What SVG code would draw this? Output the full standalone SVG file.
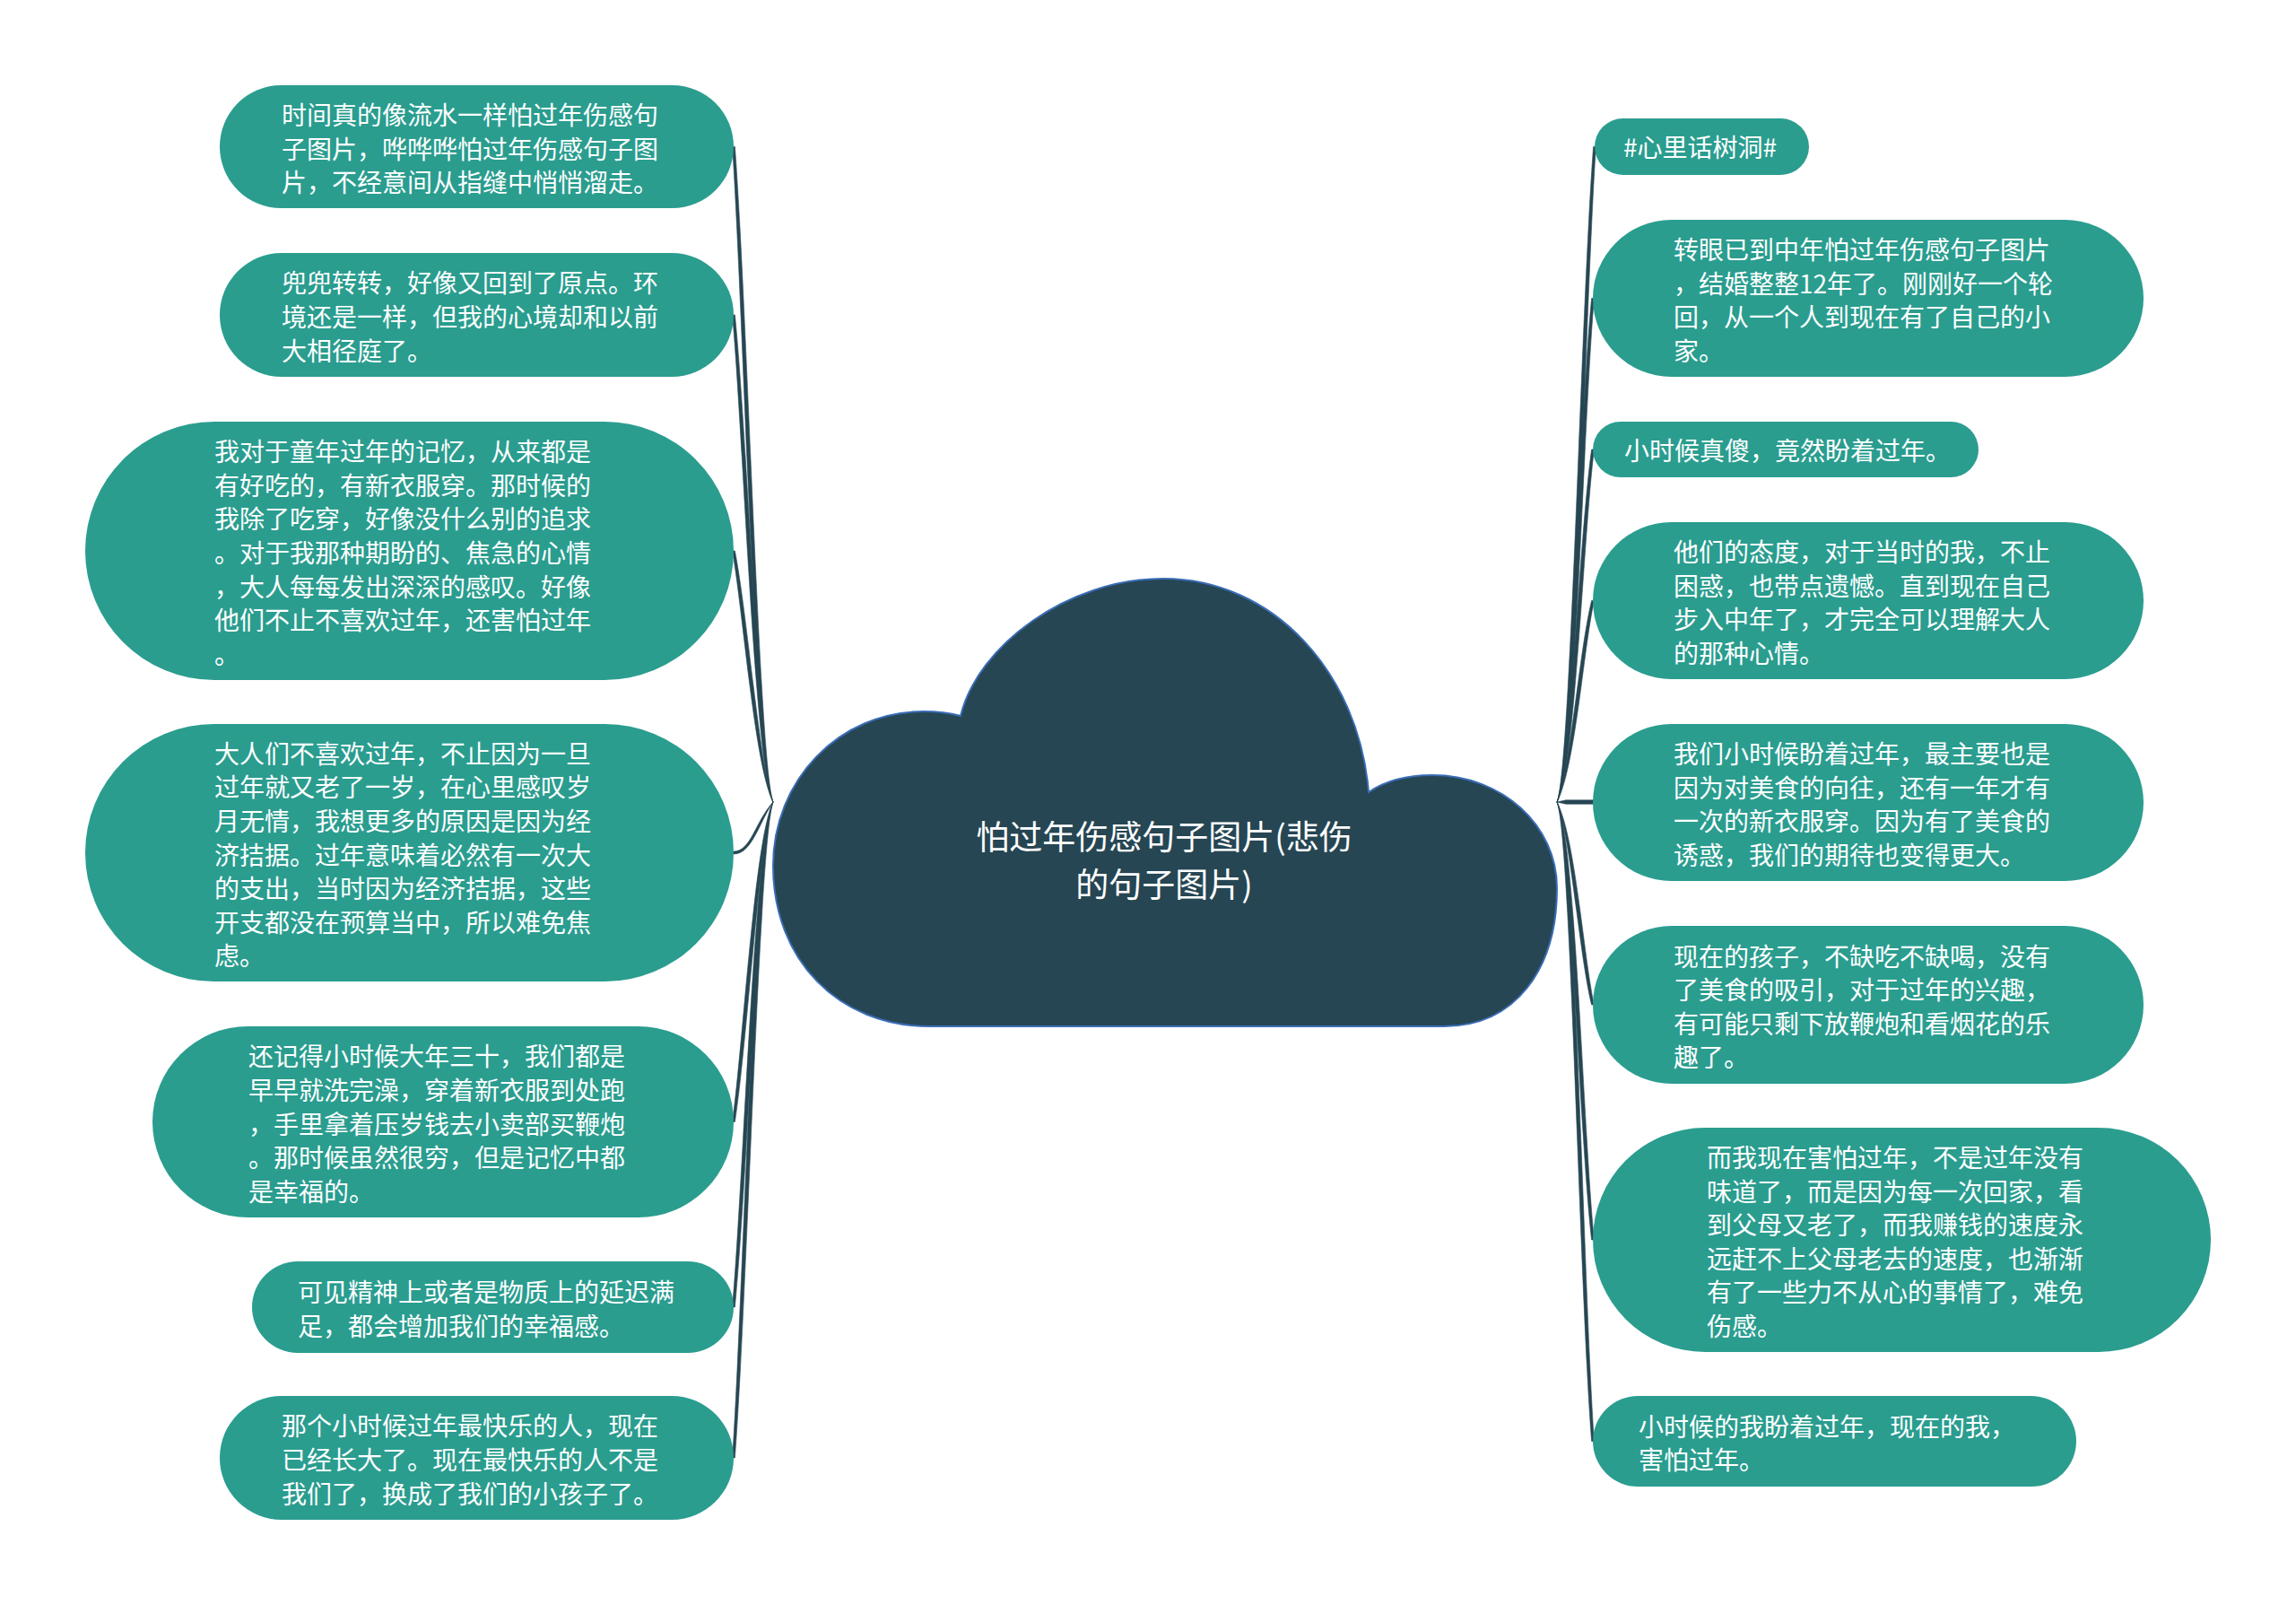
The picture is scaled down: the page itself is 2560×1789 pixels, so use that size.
<svg xmlns="http://www.w3.org/2000/svg" width="2560" height="1789" viewBox="0 0 2560 1789">
<style>
.bg{fill:#ffffff}
.node{fill:#2a9d8f}
.t{font-family:"Noto Sans CJK SC","Noto Sans",sans-serif;font-size:28px;fill:#ffffff}
.ct{font-family:"Noto Sans CJK SC","Noto Sans",sans-serif;font-size:37px;fill:#ffffff;text-anchor:middle}
.edge{fill:#264653;stroke:#264653;stroke-width:0.6;stroke-linejoin:round}
.cloud{fill:#264653;stroke:#3a6db5;stroke-width:2}
</style>
<rect class="bg" x="0" y="0" width="2560" height="1789"/>
<g id="connectors">
<path class="edge" d="M862 894 C841.4 854,828.8 346,816.6 163.5 L819.4 163.5 C833.2 346,846.6 854,862 894Z"/>
<path class="edge" d="M862 894 C841.4 854,828.8 486.75,816.6 351 L819.4 351 C833.2 486.75,846.6 854,862 894Z"/>
<path class="edge" d="M862 894 C841.4 854,828.8 684,816.6 614 L819.4 614 C833.2 684,846.6 854,862 894Z"/>
<path class="edge" d="M862 894 C841.4 916.6,838 948.3,818 949.1 L818 951.9 C838 952.7,846.6 916.6,862 894Z"/>
<path class="edge" d="M862 894 C841.4 934,828.8 1161.4,816.6 1250.5 L819.4 1250.5 C833.2 1161.4,846.6 934,862 894Z"/>
<path class="edge" d="M862 894 C841.4 934,828.8 1316,816.6 1457 L819.4 1457 C833.2 1316,846.6 934,862 894Z"/>
<path class="edge" d="M862 894 C841.4 934,828.8 1442,816.6 1625 L819.4 1625 C833.2 1442,846.6 934,862 894Z"/>
<path class="edge" d="M1736 894 C1751.4 854,1762.8 346,1776.6 163.5 L1779.4 163.5 C1767.2 346,1756.6 854,1736 894Z"/>
<path class="edge" d="M1736 894 C1751.4 854,1760.8 473,1774.6 332.5 L1777.4 332.5 C1765.2 473,1756.6 854,1736 894Z"/>
<path class="edge" d="M1736 894 C1751.4 854,1760.8 599,1774.6 501 L1777.4 501 C1765.2 599,1756.6 854,1736 894Z"/>
<path class="edge" d="M1736 894 C1751.4 854,1760.8 725.6,1774.6 669.5 L1777.4 669.5 C1765.2 725.6,1756.6 854,1736 894Z"/>
<path class="edge" d="M1736 894 L1746 891.8 L1777 891.8 L1777 896.2 L1746 896.2Z"/>
<path class="edge" d="M1736 894 C1751.4 934,1760.8 1063.5,1774.6 1120 L1777.4 1120 C1765.2 1063.5,1756.6 934,1736 894Z"/>
<path class="edge" d="M1736 894 C1751.4 934,1760.8 1260,1774.6 1382 L1777.4 1382 C1765.2 1260,1756.6 934,1736 894Z"/>
<path class="edge" d="M1736 894 C1751.4 934,1760.8 1428.4,1774.6 1606.5 L1777.4 1606.5 C1765.2 1428.4,1756.6 934,1736 894Z"/>
</g>
<g id="center">
<path class="cloud" d="M1036 1144 C935 1144,862 1070,862 965 C862 870,935 793,1030 793 C1045 793,1060 795,1071 798 C1090 720,1190 645,1297 645 C1420 645,1515 750,1526 883 C1545 870,1570 864,1597 864 C1675 864,1736 920,1736 990 C1736 1080,1690 1144,1610 1144 Z"/>
<text class="ct"><tspan x="1298" y="947">怕过年伤感句子图片(悲伤</tspan><tspan x="1298" y="1000">的句子图片)</tspan></text>
</g>
<g id="L1"><rect class="node" x="245" y="95" width="573" height="137" rx="68.5"/>
<text class="t"><tspan x="314" y="139">时间真的像流水一样怕过年伤感句</tspan><tspan x="314" y="176.5">子图片，哗哗哗怕过年伤感句子图</tspan><tspan x="314" y="214">片，不经意间从指缝中悄悄溜走。</tspan></text></g>
<g id="L2"><rect class="node" x="245" y="282" width="573" height="138" rx="69"/>
<text class="t"><tspan x="314" y="326">兜兜转转，好像又回到了原点。环</tspan><tspan x="314" y="364">境还是一样，但我的心境却和以前</tspan><tspan x="314" y="402">大相径庭了。</tspan></text></g>
<g id="L3"><rect class="node" x="95" y="470" width="723" height="288" rx="144"/>
<text class="t"><tspan x="239" y="514">我对于童年过年的记忆，从来都是</tspan><tspan x="239" y="552">有好吃的，有新衣服穿。那时候的</tspan><tspan x="239" y="589">我除了吃穿，好像没什么别的追求</tspan><tspan x="239" y="627">。对于我那种期盼的、焦急的心情</tspan><tspan x="239" y="665">，大人每每发出深深的感叹。好像</tspan><tspan x="239" y="702">他们不止不喜欢过年，还害怕过年</tspan><tspan x="239" y="740">。</tspan></text></g>
<g id="L4"><rect class="node" x="95" y="807" width="723" height="287" rx="143.5"/>
<text class="t"><tspan x="239" y="851">大人们不喜欢过年，不止因为一旦</tspan><tspan x="239" y="888">过年就又老了一岁，在心里感叹岁</tspan><tspan x="239" y="926">月无情，我想更多的原因是因为经</tspan><tspan x="239" y="964">济拮据。过年意味着必然有一次大</tspan><tspan x="239" y="1001">的支出，当时因为经济拮据，这些</tspan><tspan x="239" y="1039">开支都没在预算当中，所以难免焦</tspan><tspan x="239" y="1076">虑。</tspan></text></g>
<g id="L5"><rect class="node" x="170" y="1144" width="648" height="213" rx="106.5"/>
<text class="t"><tspan x="277" y="1188">还记得小时候大年三十，我们都是</tspan><tspan x="277" y="1226">早早就洗完澡，穿着新衣服到处跑</tspan><tspan x="277" y="1264">，手里拿着压岁钱去小卖部买鞭炮</tspan><tspan x="277" y="1301">。那时候虽然很穷，但是记忆中都</tspan><tspan x="277" y="1339">是幸福的。</tspan></text></g>
<g id="L6"><rect class="node" x="281" y="1406" width="537" height="102" rx="51"/>
<text class="t"><tspan x="332" y="1451">可见精神上或者是物质上的延迟满</tspan><tspan x="332" y="1489">足，都会增加我们的幸福感。</tspan></text></g>
<g id="L7"><rect class="node" x="245" y="1556" width="573" height="138" rx="69"/>
<text class="t"><tspan x="314" y="1600">那个小时候过年最快乐的人，现在</tspan><tspan x="314" y="1638">已经长大了。现在最快乐的人不是</tspan><tspan x="314" y="1676">我们了，换成了我们的小孩子了。</tspan></text></g>
<g id="R1"><rect class="node" x="1778" y="132" width="239" height="63" rx="31.5"/>
<text class="t"><tspan x="1810" y="175">#心里话树洞#</tspan></text></g>
<g id="R2"><rect class="node" x="1776" y="245" width="614" height="175" rx="87.5"/>
<text class="t"><tspan x="1866" y="289">转眼已到中年怕过年伤感句子图片</tspan><tspan x="1866" y="327">，结婚整整12年了。刚刚好一个轮</tspan><tspan x="1866" y="364">回，从一个人到现在有了自己的小</tspan><tspan x="1866" y="402">家。</tspan></text></g>
<g id="R3"><rect class="node" x="1776" y="470" width="430" height="62" rx="31"/>
<text class="t"><tspan x="1811" y="513">小时候真傻，竟然盼着过年。</tspan></text></g>
<g id="R4"><rect class="node" x="1776" y="582" width="614" height="175" rx="87.5"/>
<text class="t"><tspan x="1866" y="626">他们的态度，对于当时的我，不止</tspan><tspan x="1866" y="664">困惑，也带点遗憾。直到现在自己</tspan><tspan x="1866" y="701">步入中年了，才完全可以理解大人</tspan><tspan x="1866" y="739">的那种心情。</tspan></text></g>
<g id="R5"><rect class="node" x="1776" y="807" width="614" height="175" rx="87.5"/>
<text class="t"><tspan x="1866" y="851">我们小时候盼着过年，最主要也是</tspan><tspan x="1866" y="889">因为对美食的向往，还有一年才有</tspan><tspan x="1866" y="926">一次的新衣服穿。因为有了美食的</tspan><tspan x="1866" y="964">诱惑，我们的期待也变得更大。</tspan></text></g>
<g id="R6"><rect class="node" x="1776" y="1032" width="614" height="176" rx="88"/>
<text class="t"><tspan x="1866" y="1077">现在的孩子，不缺吃不缺喝，没有</tspan><tspan x="1866" y="1114">了美食的吸引，对于过年的兴趣，</tspan><tspan x="1866" y="1152">有可能只剩下放鞭炮和看烟花的乐</tspan><tspan x="1866" y="1189">趣了。</tspan></text></g>
<g id="R7"><rect class="node" x="1776" y="1257" width="689" height="250" rx="125"/>
<text class="t"><tspan x="1903" y="1301">而我现在害怕过年，不是过年没有</tspan><tspan x="1903" y="1339">味道了，而是因为每一次回家，看</tspan><tspan x="1903" y="1376">到父母又老了，而我赚钱的速度永</tspan><tspan x="1903" y="1414">远赶不上父母老去的速度，也渐渐</tspan><tspan x="1903" y="1451">有了一些力不从心的事情了，难免</tspan><tspan x="1903" y="1489">伤感。</tspan></text></g>
<g id="R8"><rect class="node" x="1776" y="1556" width="539" height="101" rx="50.5"/>
<text class="t"><tspan x="1827" y="1601">小时候的我盼着过年，现在的我，</tspan><tspan x="1827" y="1638">害怕过年。</tspan></text></g>
</svg>
